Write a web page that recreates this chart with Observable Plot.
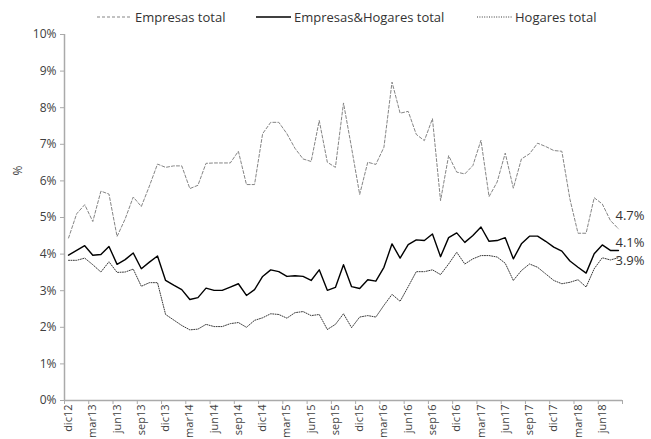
<!DOCTYPE html>
<html><head><meta charset="utf-8">
<script src="https://cdn.jsdelivr.net/npm/d3@7"></script>
<script src="https://cdn.jsdelivr.net/npm/@observablehq/plot@0.6"></script>
<style>
body{margin:0;background:#fff;font-family:"Open Sans",sans-serif;}
#wrap{position:relative;width:651px;height:439px;overflow:hidden;}
#legend{position:relative;height:28px;font-size:13px;color:#333;}
.li{position:absolute;top:8px;height:18px;display:flex;align-items:center;white-space:nowrap;}
.li svg{margin-right:3px;}
#ylab{position:absolute;left:13px;top:162px;font-size:12px;color:#404040;transform:rotate(-90deg);}
#chart svg{overflow:visible;display:block;}
</style></head><body>
<div id="wrap">
<div id="legend"></div>
<div id="chart"></div>
<div id="ylab">%</div>
</div>
<script>
// x tick labels (every 3 months, dic12 .. jun18)
const tickLabels = ["dic12","mar13","jun13","sep13","dic13","mar14","jun14","sep14","dic14","mar15","jun15","sep15","dic15","mar16","jun16","sep16","dic16","mar17","jun17","sep17","dic17","mar18","jun18"];
// monthly values, dic12 .. ago18 (%)
const empresas = [4.44,5.10,5.35,4.89,5.72,5.64,4.48,4.96,5.56,5.30,5.86,6.46,6.37,6.41,6.41,5.79,5.88,6.48,6.49,6.49,6.49,6.81,5.90,5.90,7.29,7.60,7.60,7.29,6.89,6.60,6.53,7.65,6.51,6.37,8.13,6.90,5.63,6.51,6.45,6.92,8.70,7.85,7.90,7.27,7.10,7.70,5.46,6.69,6.24,6.19,6.42,7.11,5.57,5.97,6.76,5.80,6.60,6.74,7.03,6.94,6.83,6.81,5.50,4.57,4.57,5.54,5.37,4.92,4.69];
const total = [3.97,4.10,4.23,3.97,3.99,4.21,3.72,3.85,4.03,3.60,3.78,3.95,3.28,3.15,3.03,2.76,2.81,3.07,3.01,3.01,3.10,3.19,2.87,3.03,3.39,3.57,3.52,3.39,3.41,3.39,3.28,3.57,3.01,3.09,3.71,3.11,3.06,3.30,3.26,3.64,4.28,3.89,4.26,4.39,4.37,4.55,3.93,4.45,4.58,4.32,4.51,4.74,4.35,4.37,4.45,3.87,4.28,4.49,4.49,4.35,4.19,4.08,3.81,3.64,3.48,4.01,4.25,4.10,4.10];
const hogares = [3.83,3.83,3.89,3.71,3.51,3.79,3.50,3.51,3.59,3.12,3.22,3.22,2.35,2.20,2.05,1.93,1.95,2.08,2.02,2.02,2.10,2.13,2.00,2.19,2.26,2.37,2.35,2.25,2.40,2.43,2.32,2.35,1.94,2.08,2.37,1.99,2.28,2.32,2.28,2.60,2.90,2.71,3.11,3.52,3.52,3.57,3.44,3.73,4.05,3.73,3.87,3.96,3.96,3.92,3.75,3.28,3.55,3.73,3.64,3.46,3.28,3.19,3.23,3.30,3.10,3.60,3.90,3.84,3.90];
const seriesNames = ["Empresas total","Empresas&Hogares total","Hogares total"];

const seriesValues = [empresas, total, hogares];
const styles = [
  {stroke:"#858585", dash:"3,2", width:1, dy:-13, legendX:97},
  {stroke:"#000", dash:null, width:1.4, dy:-8, legendX:256},
  {stroke:"#3a3a3a", dash:"1,1.4", width:1, dy:3, legendX:477}
];
const n = empresas.length;

// legend
const legend = document.getElementById("legend");
seriesNames.forEach((name, k) => {
  const s = styles[k];
  const d = document.createElement("div");
  d.className = "li";
  d.style.left = s.legendX + "px";
  d.innerHTML = `<svg width="35" height="4"><line x1="0" x2="35" y1="2" y2="2" stroke="${s.stroke}" stroke-width="${s.width}" ${s.dash ? `stroke-dasharray="${s.dash}"` : ""}/></svg><span>${name}</span>`;
  legend.appendChild(d);
});

const lineMarks = seriesValues.map((vals, k) => {
  const s = styles[k];
  const rows = vals.map((v, i) => ({i, v}));
  const opts = {x:"i", y:"v", stroke:s.stroke, strokeWidth:s.width};
  if (s.dash) opts.strokeDasharray = s.dash;
  return Plot.line(rows, opts);
});
const labelMarks = seriesValues.map((vals, k) => Plot.text([{i:n-1, v:vals[n-1]}], {
  x:"i", y:"v", text:d => d.v.toFixed(1) + "%", textAnchor:"start", dx:-3, dy:styles[k].dy,
  fontSize:13, fill:"#333"
}));

const chart = Plot.plot({
  width:651, height:411,
  marginTop:6, marginBottom:39, marginLeft:64, marginRight:29,
  x:{type:"linear", domain:[-0.5, n - 0.5], axis:null},
  y:{domain:[0,10], axis:null},
  style:{fontFamily:"Open Sans, sans-serif", fontSize:"12px", color:"#404040", background:"#fff"},
  marks:[
    Plot.axisY({ticks:d3.range(0, 11), tickSize:4, tickPadding:4, tickFormat:d => d + "%", label:null, stroke:"#aaa", fontSize:12}),
    Plot.axisX({ticks:d3.range(-0.5, n, 3), tickSize:4, tickFormat:() => "", label:null, stroke:"#aaa"}),
    Plot.axisX({ticks:tickLabels.map((_, k) => k * 3), tickFormat:d => tickLabels[Math.round(d / 3)], tickSize:0, tickPadding:4, tickRotate:-90, label:null, fontSize:11}),
    Plot.ruleX([-0.5], {stroke:"#aaa", strokeWidth:1.5}),
    Plot.ruleY([0], {stroke:"#aaa", strokeWidth:1.5}),
    ...lineMarks,
    ...labelMarks
  ]
});
document.getElementById("chart").appendChild(chart);
</script>
</body></html>
